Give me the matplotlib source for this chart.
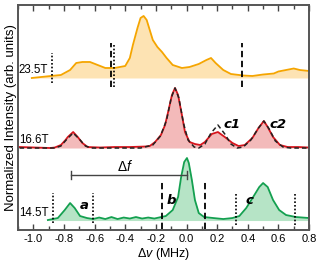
import matplotlib
matplotlib.use("Agg")
import matplotlib.pyplot as plt
from matplotlib.ticker import MultipleLocator

plt.rcParams["font.family"] = ["Liberation Sans", "DejaVu Sans"]
plt.rcParams["axes.unicode_minus"] = False
plt.rcParams["mathtext.fontset"] = "custom"
plt.rcParams["mathtext.rm"] = "Liberation Sans"
plt.rcParams["mathtext.it"] = "Liberation Sans:italic"

# spectra: frequency offset (MHz), intensity above baseline
x_235 = [-1.01, -0.886, -0.82, -0.76, -0.72, -0.68, -0.63, -0.58, -0.53, -0.47,
         -0.40, -0.37, -0.35, -0.32, -0.30, -0.28, -0.26, -0.24, -0.22, -0.19,
         -0.16, -0.13, -0.09, -0.03, 0.02, 0.08, 0.13, 0.16, 0.19, 0.24,
         0.29, 0.37, 0.43, 0.50, 0.57, 0.60, 0.65, 0.70, 0.74, 0.80]
y_235 = [0.0, 0.02, 0.03, 0.08, 0.15, 0.16, 0.16, 0.13, 0.10, 0.10,
         0.12, 0.20, 0.33, 0.50, 0.60, 0.62, 0.58, 0.48, 0.38, 0.31,
         0.26, 0.20, 0.13, 0.10, 0.11, 0.14, 0.18, 0.20, 0.15, 0.08,
         0.04, 0.025, 0.02, 0.035, 0.045, 0.065, 0.08, 0.095, 0.08, 0.07]

x_166 = [-1.09, -0.99, -0.89, -0.86, -0.82, -0.79, -0.775, -0.74, -0.71, -0.68,
         -0.645, -0.565, -0.47, -0.37, -0.27, -0.24, -0.205, -0.167, -0.14, -0.12,
         -0.095, -0.075, -0.055, -0.03, -0.01, 0.02, 0.055, 0.09, 0.12, 0.165,
         0.205, 0.25, 0.30, 0.34, 0.38, 0.43, 0.47, 0.505, 0.53, 0.565,
         0.61, 0.66, 0.73, 0.80]
y_166 = [0.01, 0.005, 0.0, 0.005, 0.03, 0.08, 0.11, 0.16, 0.11, 0.05,
         0.01, 0.005, 0.01, 0.01, 0.015, 0.02, 0.06, 0.13, 0.23, 0.36,
         0.53, 0.60, 0.53, 0.33, 0.16, 0.06, 0.04, 0.03, 0.06, 0.14,
         0.16, 0.11, 0.05, 0.02, 0.03, 0.10, 0.20, 0.27, 0.21, 0.11,
         0.03, 0.01, 0.01, 0.005]

x_fit = [-1.09, -0.86, -0.82, -0.78, -0.74, -0.70, -0.66, -0.62, -0.30, -0.22,
         -0.17, -0.13, -0.10, -0.075, -0.05, -0.02, 0.01, 0.05, 0.08, 0.12,
         0.16, 0.205, 0.25, 0.29, 0.33, 0.37, 0.42, 0.47, 0.505, 0.54,
         0.58, 0.63, 0.68, 0.80]
y_fit = [0.0, 0.0, 0.02, 0.09, 0.15, 0.09, 0.02, 0.0, 0.0, 0.03,
         0.12, 0.28, 0.50, 0.60, 0.50, 0.25, 0.08, 0.01, 0.0, 0.04,
         0.15, 0.23, 0.14, 0.04, 0.0, 0.01, 0.08, 0.20, 0.27, 0.19,
         0.07, 0.01, 0.0, 0.0]

x_145 = [-0.905, -0.84, -0.795, -0.76, -0.73, -0.695, -0.65, -0.61, -0.57, -0.53,
         -0.49, -0.45, -0.41, -0.37, -0.33, -0.29, -0.25, -0.21, -0.135, -0.09,
         -0.055, -0.035, -0.015, 0.003, 0.015, 0.035, 0.055, 0.08, 0.115, 0.175,
         0.24, 0.30, 0.345, 0.39, 0.435, 0.475, 0.50, 0.53, 0.565, 0.605,
         0.65, 0.715, 0.80]
y_145 = [0.005, 0.025, 0.105, 0.175, 0.125, 0.045, 0.025, 0.015, 0.03, 0.015,
         0.035, 0.015, 0.03, 0.02, 0.035, 0.02, 0.03, 0.02, 0.045, 0.105,
         0.235, 0.435, 0.585, 0.625, 0.575, 0.405, 0.205, 0.075, 0.035, 0.025,
         0.015, 0.025, 0.045, 0.125, 0.235, 0.335, 0.375, 0.335, 0.205, 0.105,
         0.055, 0.035, 0.025]

# vertical offsets of the three traces
offsets = {"23.5T": 1.52, "16.6T": 0.82, "14.5T": 0.095}

# marker lines: (x, ymin, ymax, style)
markers = [(-0.88, 1.47, 1.77, ":"), (-0.475, 1.43, 1.87, ":"),
           (-0.49, 1.43, 1.87, "--"), (0.36, 1.43, 1.87, "--"),
           (-0.87, 0.07, 0.37, ":"), (-0.61, 0.07, 0.37, ":"),
           (-0.16, 0.01, 0.48, "--"), (0.12, 0.01, 0.48, "--"),
           (0.32, 0.05, 0.37, ":"), (0.71, 0.05, 0.37, ":")]

fig = plt.figure(figsize=(3.16, 2.62), dpi=100)
ax = fig.add_axes([0.057, 0.122, 0.921, 0.859])

traces = [(x_235, y_235, "23.5T", "#f5a500", "#fde3b3"),
          (x_166, y_166, "16.6T", "#d7141c", "#f3baba"),
          (x_145, y_145, "14.5T", "#14a050", "#b6e4c6")]
for xs, ys, name, line_c, fill_c in traces:
    off = offsets[name]
    yy = [v + off for v in ys]
    ax.fill_between(xs, off, yy, color=fill_c, lw=0)
    ax.plot(xs, yy, color=line_c, lw=1.3)
    ax.text(-1.095, off + 0.08, name, fontsize=8.3, ha="left", va="center")

ax.plot(x_fit, [v + offsets["16.6T"] for v in y_fit], color="#222222",
        lw=1.1, ls=(0, (3, 2)))

for xm, y0, y1, st in markers:
    if st == "--":
        ax.plot([xm, xm], [y0, y1], color="black", lw=1.3, ls=(0, (3.5, 2)))
    else:
        ax.plot([xm, xm], [y0, y1], color="black", lw=1.2, ls=(0, (1, 1.2)))

# delta f bracket
ax.plot([-0.755, 0.0], [0.55, 0.55], color="#444444", lw=1.0)
ax.plot([-0.755, -0.755], [0.51, 0.59], color="#444444", lw=1.0)
ax.plot([0.0, 0.0], [0.51, 0.59], color="#444444", lw=1.0)
ax.text(-0.40, 0.64, r"$\mathit{\Delta f}$", fontsize=10, ha="center", va="center")

for lab, xl, yl in [("a", -0.67, 0.25), ("b", -0.10, 0.30), ("c", 0.41, 0.30),
                    ("c1", 0.30, 1.06), ("c2", 0.60, 1.06)]:
    ax.text(xl, yl, lab, fontsize=9.5, fontweight="bold", fontstyle="italic",
            ha="center", va="center", family="DejaVu Sans")

ax.set_xlim(-1.1, 0.8)
ax.set_ylim(0, 2.25)
ax.xaxis.set_minor_locator(MultipleLocator(0.1))
ax.set_xticks([-1.0, -0.8, -0.6, -0.4, -0.2, 0.0, 0.2, 0.4, 0.6, 0.8])
ax.set_xticklabels(["-1.0", "-0.8", "-0.6", "-0.4", "-0.2", "0.0", "0.2", "0.4", "0.6", "0.8"])
ax.set_yticks([])
ax.tick_params(axis="x", which="both", direction="in", top=True, labelsize=8,
               color="#444444", pad=3)
ax.tick_params(axis="x", which="major", length=4, width=1)
ax.tick_params(axis="x", which="minor", length=3, width=1)
for sp in ax.spines.values():
    sp.set_color("#555555")
    sp.set_linewidth(1.4)

ax.set_xlabel(r"$\mathit{\Delta v}$ (MHz)", fontsize=9, labelpad=1)
ax.set_ylabel("Normalized Intensity (arb. units)", fontsize=9.5, labelpad=1)

fig.savefig("out.png", dpi=100)
